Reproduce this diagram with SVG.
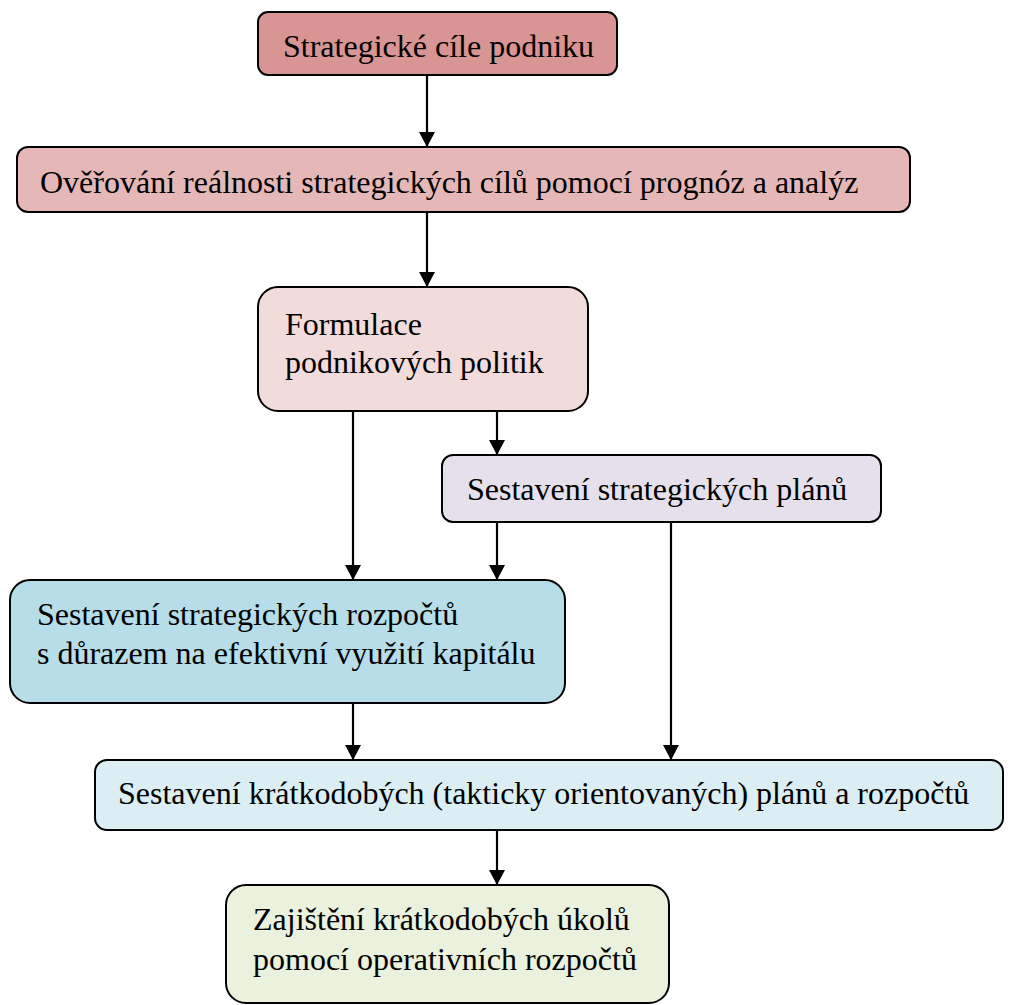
<svg xmlns="http://www.w3.org/2000/svg" width="1010" height="1005" viewBox="0 0 1010 1005">
  <style>
    .box { stroke: #000; stroke-width: 2; }
    .lbl { font-family: "Liberation Serif", "Times New Roman", serif; font-size: 32px; fill: #000; }
    .edge { stroke: #000; stroke-width: 2.2; fill: none; marker-end: url(#arrow); }
  </style>
  <defs>
    <marker id="arrow" markerUnits="userSpaceOnUse" viewBox="0 0 15 16" refX="15" refY="8" markerWidth="15" markerHeight="16" orient="auto">
      <path d="M0,0 L15,8 L0,16 Z" fill="#000"/>
    </marker>
  </defs>
  <rect width="1010" height="1005" fill="#fff"/>

  <!-- connectors -->
  <g id="connectors">
    <line class="edge" x1="427" y1="75" x2="427" y2="147"/>
    <line class="edge" x1="427" y1="212" x2="427" y2="287"/>
    <line class="edge" x1="353" y1="411" x2="353" y2="580"/>
    <line class="edge" x1="497" y1="411" x2="497" y2="455"/>
    <line class="edge" x1="497" y1="522" x2="497" y2="580"/>
    <line class="edge" x1="671" y1="522" x2="671" y2="760"/>
    <line class="edge" x1="353" y1="703" x2="353" y2="760"/>
    <line class="edge" x1="497" y1="830" x2="497" y2="885"/>
  </g>

  <g id="n1">
    <rect class="box" x="258" y="12" width="359" height="63" rx="10" fill="#D99594"/>
    <text class="lbl" x="283" y="57">Strategické cíle podniku</text>
  </g>
  <g id="n2">
    <rect class="box" x="17" y="147" width="893" height="65" rx="11" fill="#E5B8B7"/>
    <text class="lbl" x="40" y="193">Ověřování reálnosti strategických cílů pomocí prognóz a analýz</text>
  </g>
  <g id="n3">
    <rect class="box" x="258" y="287" width="330" height="124" rx="20" fill="#F2DBDB"/>
    <text class="lbl" x="285" y="335">Formulace</text>
    <text class="lbl" x="285" y="373">podnikových politik</text>
  </g>
  <g id="n4">
    <rect class="box" x="442" y="455" width="439" height="67" rx="11" fill="#E5E0EC"/>
    <text class="lbl" x="467" y="500">Sestavení strategických plánů</text>
  </g>
  <g id="n5">
    <rect class="box" x="10" y="580" width="555" height="123" rx="20" fill="#B6DDE8"/>
    <text class="lbl" x="37" y="625">Sestavení strategických rozpočtů</text>
    <text class="lbl" x="37" y="664">s důrazem na efektivní využití kapitálu</text>
  </g>
  <g id="n6">
    <rect class="box" x="95" y="760" width="908" height="70" rx="12" fill="#DAEEF3"/>
    <text class="lbl" x="118" y="804">Sestavení krátkodobých (takticky orientovaných) plánů a rozpočtů</text>
  </g>
  <g id="n7">
    <rect class="box" x="226" y="885" width="443" height="118" rx="20" fill="#EAF1DD"/>
    <text class="lbl" x="253" y="930">Zajištění krátkodobých úkolů</text>
    <text class="lbl" x="253" y="970">pomocí operativních rozpočtů</text>
  </g>
</svg>
